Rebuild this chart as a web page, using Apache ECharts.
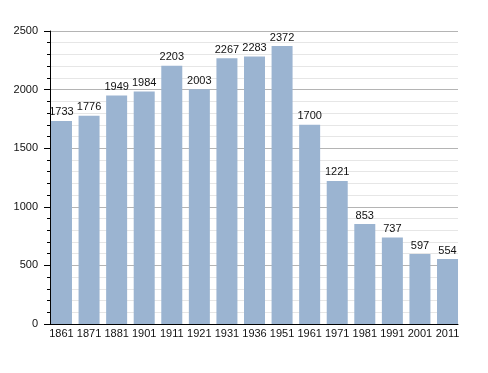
<!DOCTYPE html>
<html><head><meta charset="utf-8">
<script src="https://cdn.jsdelivr.net/npm/echarts@6/dist/echarts.min.js"></script>
<style>html,body{margin:0;padding:0;background:#fff}#c{width:488px;height:373px}</style>
</head><body><div id="c"></div>
<script>
const years = ['1861','1871','1881','1901','1911','1921','1931','1936','1951','1961','1971','1981','1991','2001','2011'];
const population = [1733,1776,1949,1984,2203,2003,2267,2283,2372,1700,1221,853,737,597,554];
const yTicks = {min: 0, max: 2500, interval: 500};

const chart = echarts.init(document.getElementById('c'), null, {renderer: 'canvas'});
const font = 'Liberation Sans, Arial, sans-serif';
chart.setOption({
  animation: false,
  backgroundColor: '#fff',
  grid: [
    {left: 50, right: 30, top: 31, bottom: 49},
    {left: 47.7, right: 26.7, top: 31, bottom: 49}
  ],
  xAxis: [
    {gridIndex: 0, type: 'value', min: 0, max: 1,
     axisLine: {show: true, lineStyle: {color: '#000', width: 1}},
     axisTick: {show: false}, axisLabel: {show: false}, splitLine: {show: false}},
    {gridIndex: 1, type: 'category', data: years, boundaryGap: true,
     axisLine: {show: false}, axisTick: {show: false},
     axisLabel: {color: '#111', fontSize: 11, fontFamily: font, margin: 4, interval: 0}}
  ],
  yAxis: [
    {gridIndex: 0, type: 'value', min: yTicks.min, max: yTicks.max, interval: yTicks.interval,
     axisLine: {show: true, lineStyle: {color: '#000', width: 1}},
     axisTick: {show: true, length: 6, lineStyle: {color: '#000'}},
     minorTick: {show: true, splitNumber: 5, length: 3, lineStyle: {color: '#000'}},
     axisLabel: {color: '#111', fontSize: 11, fontFamily: font, margin: 12, formatter: v => String(v)},
     splitLine: {show: true, lineStyle: {color: '#b4b4b4', width: 1}},
     minorSplitLine: {show: true, lineStyle: {color: '#e6e6e6', width: 1}}},
    {gridIndex: 1, type: 'value', min: yTicks.min, max: yTicks.max, interval: yTicks.interval, show: false}
  ],
  series: [{
    type: 'bar', xAxisIndex: 1, yAxisIndex: 1, data: population,
    barWidth: 21,
    itemStyle: {color: '#9bb4d1'},
    label: {show: true, position: 'top', distance: 3, color: '#111', fontSize: 11, fontFamily: font}
  }]
});
</script></body></html>
